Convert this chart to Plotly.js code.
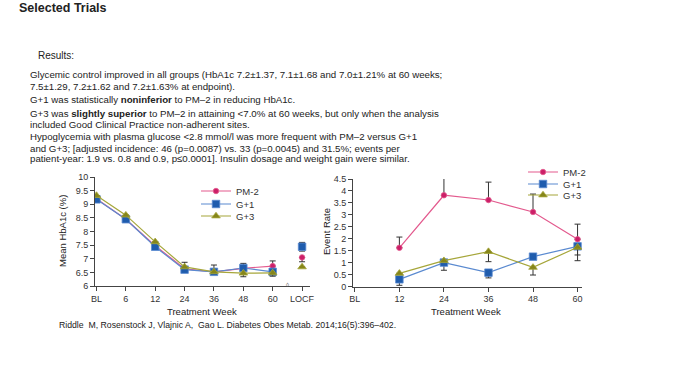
<!DOCTYPE html>
<html>
<head>
<meta charset="utf-8">
<script src="https://cdn.plot.ly/plotly-3.0.1.min.js"></script>
<style>html,body{margin:0;padding:0;background:#fff;}#chart{width:700px;height:375px;}</style>
</head>
<body>
<div id="chart"></div>
<script>
// ---------- DATA ----------
const seriesNames = ['PM-2', 'G+1', 'G+3'];
// Left chart: Mean HbA1c (%)
const hbCategories = ['BL', '6', '12', '24', '36', '48', '60'];
const hbLocfCategory = ['LOCF'];
const hbPM2 = [9.2, 8.45, 7.48, 6.63, 6.52, 6.65, 6.73];
const hbG1  = [9.18, 8.45, 7.44, 6.6, 6.52, 6.66, 6.52];
const hbG3  = [9.32, 8.6, 7.62, 6.7, 6.52, 6.47, 6.48];
const hbPM2Up = [0, 0, 0, 0, 0, 0, 0.19];
const hbPM2Dn = [0, 0, 0, 0, 0, 0, 0];
const hbG1Up  = [0, 0, 0, 0, 0.25, 0.17, 0];
const hbG1Dn  = [0, 0, 0, 0, 0, 0, 0];
const hbG3Up  = [0, 0, 0, 0.17, 0, 0, 0];
const hbG3Dn  = [0, 0, 0, 0, 0, 0.13, 0.12];
const locfPM2 = [7.05], locfPM2Up = [0], locfPM2Dn = [0.16];
const locfG1  = [7.44], locfG1Up = [0.16], locfG1Dn = [0.16];
const locfG3  = [6.7],  locfG3Up = [0], locfG3Dn = [0];
const hbTicks = [6, 6.5, 7, 7.5, 8, 8.5, 9, 9.5, 10];
// Right chart: Event rate
const erWeeks = [12, 24, 36, 48, 60];
const erTickVals = [0, 12, 24, 36, 48, 60];
const erTickText = ['BL', '12', '24', '36', '48', '60'];
const erPM2 = [1.62, 3.82, 3.62, 3.12, 1.98];
const erPM2Up = [0.45, 0.72, 0.75, 0.75, 0.63];
const erG1 = [0.3, 1.0, 0.58, 1.25, 1.68];
const erG1Dn = [0.25, 0.32, 0.22, 0, 0.6];
const erG3 = [0.55, 1.08, 1.46, 0.8, 1.64];
const erG3Dn = [0, 0, 0.42, 0.32, 0.32];
// Texts
const pageTitle = 'Selected Trials';
const resultsHeader = 'Results:';
const bodyLines = [
  'Glycemic control improved in all groups (HbA1c 7.2±1.37, 7.1±1.68 and 7.0±1.21% at 60 weeks;',
  '7.5±1.29, 7.2±1.62 and 7.2±1.63% at endpoint).',
  'G+1 was statistically <b>noninferior</b> to PM–2 in reducing HbA1c.',
  'G+3 was <b>slightly superior</b> to PM–2 in attaining &lt;7.0% at 60 weeks, but only when the analysis',
  'included Good Clinical Practice non-adherent sites.',
  'Hypoglycemia with plasma glucose &lt;2.8 mmol/l was more frequent with PM–2 versus G+1',
  'and G+3; [adjusted incidence: 46 (p=0.0087) vs. 33 (p=0.0045) and 31.5%; events per',
  'patient-year: 1.9 vs. 0.8 and 0.9, p≤0.0001]. Insulin dosage and weight gain were similar.'
];
const citation = 'Riddle  M, Rosenstock J, Vlajnic A,  Gao L. Diabetes Obes Metab. 2014;16(5):396–402.';

// ---------- STYLE ----------
const W = 700, H = 375;
const px = x => x / W, py = y => 1 - y / H;
const FONT = 'Liberation Sans, Arial, sans-serif';
const col = {
  pm2: {m: '#cc1f68', l: '#e35a8e', sym: 'circle', size: 5.5},
  g1:  {m: '#1f5cad', l: '#5a8ad0', sym: 'square', size: 7.5},
  g3:  {m: '#86861a', l: '#a6a63a', sym: 'triangle-up', size: 7.5}
};
const eb = (up, dn) => ({type: 'data', symmetric: false, array: up, arrayminus: dn,
  color: '#333', thickness: 1, width: 3});

function lineTrace(x, y, up, dn, c, name, xa, ya, leg, show) {
  return {x, y, xaxis: xa, yaxis: ya, type: 'scatter', mode: show === 'markers' ? 'markers' : 'lines+markers',
    name, legend: leg, showlegend: !!leg,
    line: {color: c.l, width: 1.2},
    marker: {color: c.m, symbol: c.sym, size: c.size, line: {color: c.l, width: 0.8}},
    error_y: eb(up, dn), hoverinfo: 'skip'};
}

const traces = [
  lineTrace(hbCategories, hbPM2, hbPM2Up, hbPM2Dn, col.pm2, 'PM-2', 'x', 'y', 'legend'),
  lineTrace(hbCategories, hbG1, hbG1Up, hbG1Dn, col.g1, 'G+1', 'x', 'y', 'legend2'),
  lineTrace(hbCategories, hbG3, hbG3Up, hbG3Dn, col.g3, 'G+3', 'x', 'y', 'legend3'),
  lineTrace(hbLocfCategory, locfPM2, locfPM2Up, locfPM2Dn, col.pm2, 'PM-2', 'x', 'y', null, 'markers'),
  lineTrace(hbLocfCategory, locfG1, locfG1Up, locfG1Dn, col.g1, 'G+1', 'x', 'y', null, 'markers'),
  lineTrace(hbLocfCategory, locfG3, locfG3Up, locfG3Dn, col.g3, 'G+3', 'x', 'y', null, 'markers'),
  lineTrace(erWeeks, erPM2, erPM2Up, erWeeks.map(() => 0), col.pm2, 'PM-2', 'x2', 'y2', 'legend4'),
  lineTrace(erWeeks, erG1, erWeeks.map(() => 0), erG1Dn, col.g1, 'G+1', 'x2', 'y2', 'legend5'),
  lineTrace(erWeeks, erG3, erWeeks.map(() => 0), erG3Dn, col.g3, 'G+3', 'x2', 'y2', 'legend6')
];

const axBase = {showgrid: false, zeroline: false, showline: true, linecolor: '#444', linewidth: 1,
  ticks: 'outside', ticklen: 4, tickcolor: '#444', tickfont: {family: FONT, size: 9, color: '#333'},
  fixedrange: true};

function legendAt(xPix, yPix) {
  return {x: px(xPix), y: py(yPix), xanchor: 'left', yanchor: 'middle', xref: 'paper', yref: 'paper',
    bgcolor: 'rgba(0,0,0,0)', borderwidth: 0, font: {family: FONT, size: 9.5, color: '#333'},
    itemwidth: 30, tracegroupgap: 0};
}

const annotations = [];
function txt(text, x, y, size, opts) {
  annotations.push(Object.assign({text, x: px(x), y: py(y), xref: 'paper', yref: 'paper',
    xanchor: 'left', yanchor: 'middle', showarrow: false,
    font: {family: FONT, size, color: '#222'}}, opts || {}));
}
txt('<b>' + pageTitle + '</b>', 17, 8, 12.5);
txt(resultsHeader, 36, 55, 10);
const lineYs = [74, 86, 99, 113, 124, 137, 148, 159];
bodyLines.forEach((t, i) => txt(t, 28, lineYs[i], 9.7));
txt(citation, 57, 325, 8.7);
txt('Treatment Week', 202, 311, 9.5, {xanchor: 'center'});
txt('Treatment Week', 466, 311, 9.5, {xanchor: 'center'});
txt('Mean HbA1c (%)', 62, 231, 9.5, {xanchor: 'center', textangle: -90});
txt('Event Rate', 326, 232, 9.5, {xanchor: 'center', textangle: -90});
txt('◊', 287, 285, 6, {xanchor: 'center', font: {family: FONT, size: 6, color: '#555'}});

const layout = {
  width: W, height: H, margin: {l: 0, r: 0, t: 0, b: 0},
  paper_bgcolor: '#fff', plot_bgcolor: 'rgba(0,0,0,0)',
  font: {family: FONT},
  xaxis: Object.assign({}, axBase, {domain: [px(95), px(310)], anchor: 'y', type: 'category',
    categoryorder: 'array', categoryarray: hbCategories.concat(hbLocfCategory), range: [-0.05, 7.27]}),
  yaxis: Object.assign({}, axBase, {domain: [py(286), py(177)], anchor: 'x', range: [6, 10],
    tickvals: hbTicks}),
  xaxis2: Object.assign({}, axBase, {domain: [px(353), px(582)], anchor: 'y2', range: [-0.5, 61.2],
    tickvals: erTickVals, ticktext: erTickText}),
  yaxis2: Object.assign({}, axBase, {domain: [py(286.5), py(179)], anchor: 'x2', range: [0, 4.5],
    dtick: 0.5, tick0: 0}),
  legend: legendAt(196, 191),
  legend2: legendAt(196, 204),
  legend3: legendAt(196, 216),
  legend4: legendAt(523, 172),
  legend5: legendAt(523, 184),
  legend6: legendAt(523, 195),
  annotations,
  showlegend: true
};

Plotly.newPlot('chart', traces, layout, {staticPlot: true, displayModeBar: false});
</script>
</body>
</html>
